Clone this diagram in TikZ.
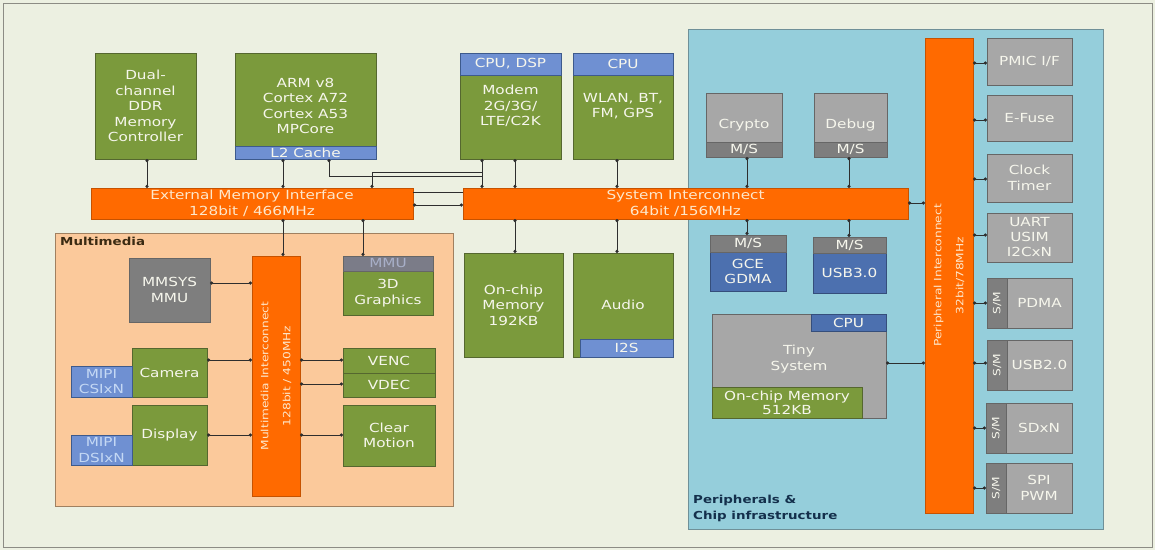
\documentclass[tikz,border=0pt]{standalone}
\usepackage{fontspec}
\setmainfont{DejaVu Sans}[FakeStretch=1.22]
\usetikzlibrary{arrows.meta}
\definecolor{bgc}{HTML}{ECF0E1}
\definecolor{frame}{HTML}{8C8C84}
\definecolor{grn}{HTML}{7B9A3C}
\definecolor{grnd}{HTML}{55672F}
\definecolor{blu}{HTML}{6F90D2}
\definecolor{blud}{HTML}{4C70AF}
\definecolor{gry}{HTML}{A7A7A7}
\definecolor{gryd}{HTML}{7E7E7E}
\definecolor{gryb}{HTML}{666666}
\definecolor{grym}{HTML}{7B7C88}
\definecolor{org}{HTML}{FF6A00}
\definecolor{orgd}{HTML}{C65200}
\definecolor{pch}{HTML}{FBC99B}
\definecolor{pchd}{HTML}{A08060}
\definecolor{lbl}{HTML}{95CEDB}
\definecolor{lbld}{HTML}{6F9098}
\definecolor{txw}{HTML}{F6F6EC}
\definecolor{txo}{HTML}{FDE7CB}
\definecolor{lnk}{HTML}{2E2E2E}
\definecolor{mmlab}{HTML}{3A2A12}
\definecolor{perlab}{HTML}{14304C}
\definecolor{mipit}{HTML}{C4D8F4}
\definecolor{mmut}{HTML}{A8AFC8}
\tikzset{
 base/.style={inner sep=0pt, outer sep=0pt, align=center, font=\fontsize{12.5}{15.5}\selectfont, text=txw, line width=0.8pt},
 grnbox/.style={base, fill=grn, draw=grnd},
 blubox/.style={base, fill=blu, draw=blud!80!black},
 dblbox/.style={base, fill=blud, draw=blud!70!black},
 grybox/.style={base, fill=gry, draw=gryb},
 msbox/.style={base, fill=gryd, draw=gryb},
 smbox/.style={base, fill=gryd, draw=gryb, font=\fontsize{10}{12}\selectfont},
 dgrybox/.style={base, fill=gryd, draw=gryb},
 bar/.style={base, fill=org, draw=orgd, text=txo},
 region/.style={inner sep=0pt, outer sep=0pt, line width=0.8pt},
 bartxt/.style={inner sep=0pt, align=center, text=txo, font=\fontsize{10}{22}\selectfont},
 conn/.style={draw=lnk, line width=0.7pt, {Circle[length=3.2pt]}-{Circle[length=3.2pt]}},
 plain/.style={draw=lnk, line width=0.7pt},
}
\newcommand\bx[7]{\node[#2, minimum width={(#5-#3)*1pt}, minimum height={(#6-#4)*1pt}] (#1) at ({(#3+#5)/2},{(#4+#6)/2}) {#7};}
\begin{document}
\begin{tikzpicture}[x=1pt,y=-1pt]
\useasboundingbox (0,0) rectangle (1155,550);
\fill[bgc] (0,0) rectangle (1155,550);
\draw[frame, line width=1pt] (3,3) rectangle (1152,547);
% regions
\bx{mm}{region, fill=pch, draw=pchd}{55}{233}{453}{506}{}
\bx{per}{region, fill=lbl, draw=lbld}{688}{29}{1103}{529}{}
\node[anchor=north west, inner sep=0pt, font=\bfseries\fontsize{11}{14}\selectfont, text=mmlab] (mmlbl) at (60,237) {Multimedia};
\node[anchor=south west, inner sep=0pt, align=left, font=\bfseries\fontsize{11}{16}\selectfont, text=perlab] (perlbl) at (693,522) {Peripherals \&\\Chip infrastructure};
% top row
\bx{ddr}{grnbox}{95}{53}{196}{159}{Dual-\\channel\\DDR\\Memory\\Controller}
\bx{arm}{grnbox}{235}{53}{376}{159}{ARM v8\\Cortex A72\\Cortex A53\\MPCore}
\bx{l2}{blubox}{235}{146}{376}{159}{L2 Cache}
\bx{modem}{grnbox}{460}{53}{561}{159}{Modem\\2G/3G/\\LTE/C2K}
\bx{modemcpu}{blubox}{460}{53}{561}{75}{CPU, DSP}
\bx{wlan}{grnbox}{573}{53}{673}{159}{WLAN, BT,\\FM, GPS}
\bx{wlancpu}{blubox}{573}{53}{673}{75}{CPU}
% bars
\bx{emi}{bar}{91}{188}{413}{219}{External Memory Interface\\128bit / 466MHz}
\bx{si}{bar}{463}{188}{908}{219}{System Interconnect\\64bit /156MHz}
% multimedia
\bx{mmu}{dgrybox}{129}{258}{210}{322}{MMSYS\\MMU}
\bx{mmic}{bar}{252}{256}{300}{496}{}
\node[bartxt, rotate=90] (mmictxt) at (mmic.center) {Multimedia Interconnect\\128bit / 450MHz};
\bx{gfx}{grnbox}{343}{271}{433}{315}{3D\\Graphics}
\bx{gfxmmu}{base, fill=grym, draw=gryb, text=mmut}{343}{256}{433}{271}{MMU}
\bx{cam}{grnbox}{132}{348}{207}{397}{Camera}
\bx{csi}{blubox, text=mipit}{71}{366}{132}{397}{MIPI\\CSIxN}
\bx{disp}{grnbox}{132}{405}{207}{465}{Display}
\bx{dsi}{blubox, text=mipit}{71}{435}{132}{465}{MIPI\\DSIxN}
\bx{venc}{grnbox}{343}{348}{435}{373}{VENC}
\bx{vdec}{grnbox}{343}{373}{435}{397}{VDEC}
\bx{cm}{grnbox}{343}{405}{435}{466}{Clear\\Motion}
% middle
\bx{ocm}{grnbox}{464}{253}{563}{357}{On-chip\\Memory\\192KB}
\bx{audio}{grnbox}{573}{253}{673}{357}{Audio}
\bx{i2s}{blubox}{580}{339}{673}{357}{I2S}
% peripherals
\bx{crypto}{grybox}{706}{93}{782}{157}{Crypto}
\bx{cryptoms}{msbox}{706}{142}{782}{157}{M/S}
\bx{debug}{grybox}{814}{93}{887}{157}{Debug}
\bx{debugms}{msbox}{814}{142}{887}{157}{M/S}
\bx{gce}{dblbox}{710}{252}{786}{291}{GCE\\GDMA}
\bx{gcems}{msbox}{710}{235}{786}{252}{M/S}
\bx{usb3}{dblbox}{813}{253}{886}{293}{USB3.0}
\bx{usb3ms}{msbox}{813}{237}{886}{253}{M/S}
\bx{tiny}{grybox}{712}{314}{886}{418}{}
\bx{tinycpu}{dblbox}{811}{314}{886}{331}{CPU}
\bx{tinyocm}{grnbox, font=\fontsize{12.5}{14}\selectfont}{712}{387}{862}{418}{On-chip Memory\\512KB}
\node[base, text=txw] (tinytxt) at (799,359) {Tiny\\System};
\bx{pic}{bar}{925}{38}{973}{513}{}
\node[bartxt, rotate=90] (pictxt) at (pic.center) {Peripheral Interconnect\\32bit/78MHz};
\bx{pmic}{grybox}{987}{38}{1072}{85}{PMIC I/F}
\bx{efuse}{grybox}{987}{95}{1072}{141}{E-Fuse}
\bx{clk}{grybox}{987}{154}{1072}{202}{Clock\\Timer}
\bx{uart}{grybox, font=\fontsize{12.5}{15}\selectfont}{987}{213}{1072}{262}{UART\\USIM\\I2CxN}
\bx{pdma}{grybox}{1007}{278}{1072}{328}{PDMA}
\bx{pdmas}{smbox}{987}{278}{1007}{328}{\rotatebox{90}{S/M}}
\bx{usb2}{grybox}{1007}{340}{1072}{390}{USB2.0}
\bx{usbs}{smbox}{987}{340}{1007}{390}{\rotatebox{90}{S/M}}
\bx{sd}{grybox}{1006}{403}{1072}{453}{SDxN}
\bx{sds}{smbox}{986}{403}{1006}{453}{\rotatebox{90}{S/M}}
\bx{spi}{grybox}{1006}{463}{1072}{513}{SPI\\PWM}
\bx{spis}{smbox}{986}{463}{1006}{513}{\rotatebox{90}{S/M}}
% connectors
\coordinate (ja) at (482,176);
\coordinate (jb) at (482,172);
\draw[conn] (147,0 |- ddr.south) -- (147,0 |- emi.north);
\draw[conn] (283,0 |- l2.south) -- (283,0 |- emi.north);
\draw[plain, {Circle[length=3.2pt]}-] (329,0 |- l2.south) |- (ja);
\draw[plain, {Circle[length=3.2pt]}-] (372,0 |- emi.north) |- (jb);
\draw[conn] (482,0 |- modem.south) -- (482,0 |- si.north);
\draw[plain] (emi.east |- 0,192) -- (si.west |- 0,192);
\draw[conn] (emi.east |- 0,205) -- (si.west |- 0,205);
\draw[conn] (515,0 |- modem.south) -- (515,0 |- si.north);
\draw[conn] (617,0 |- wlan.south) -- (617,0 |- si.north);
\draw[conn] (515,0 |- si.south) -- (515,0 |- ocm.north);
\draw[conn] (617,0 |- si.south) -- (617,0 |- audio.north);
\draw[conn] (283,0 |- emi.south) -- (283,0 |- mmic.north);
\draw[conn] (363,0 |- emi.south) -- (363,0 |- gfxmmu.north);
\draw[conn] (747,0 |- cryptoms.south) -- (747,0 |- si.north);
\draw[conn] (849,0 |- debugms.south) -- (849,0 |- si.north);
\draw[conn] (747,0 |- si.south) -- (747,0 |- gcems.north);
\draw[conn] (849,0 |- si.south) -- (849,0 |- usb3ms.north);
\draw[conn] (si.east |- 0,203) -- (pic.west |- 0,203);
\draw[conn] (tiny.east |- 0,363) -- (pic.west |- 0,363);
\foreach \n/\yy in {pmic/63, efuse/120, clk/179, uart/235, pdmas/303, usbs/363, sds/428, spis/488}
  \draw[conn] (pic.east |- 0,\yy) -- (\n.west |- 0,\yy);
\draw[conn] (mmu.east |- 0,283) -- (mmic.west |- 0,283);
\draw[conn] (cam.east |- 0,360) -- (mmic.west |- 0,360);
\draw[conn] (disp.east |- 0,435) -- (mmic.west |- 0,435);
\draw[conn] (mmic.east |- 0,360) -- (venc.west |- 0,360);
\draw[conn] (mmic.east |- 0,384) -- (vdec.west |- 0,384);
\draw[conn] (mmic.east |- 0,435) -- (cm.west |- 0,435);
\end{tikzpicture}
\end{document}
